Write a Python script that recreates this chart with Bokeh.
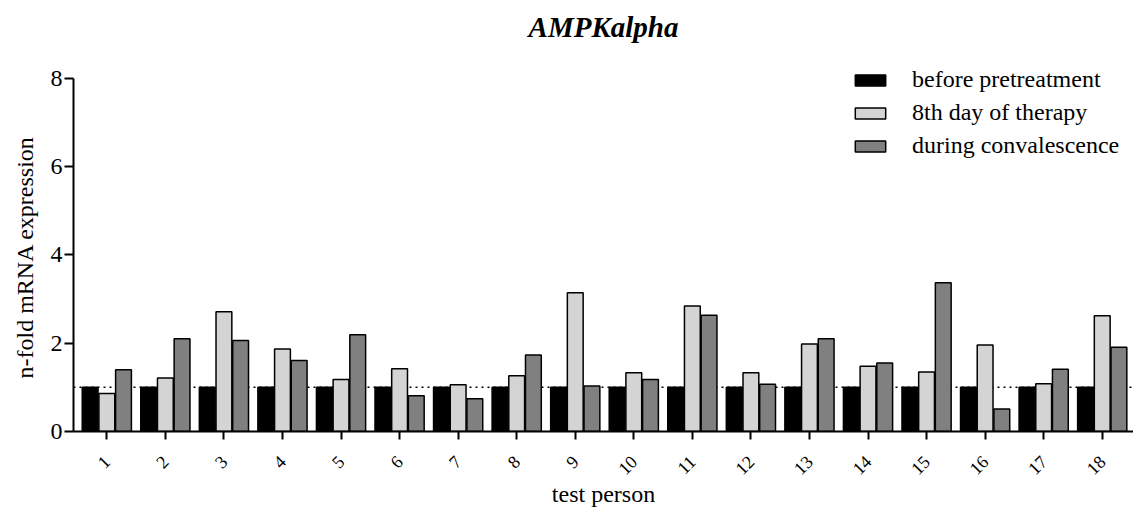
from math import pi
from bokeh.plotting import figure
from bokeh.models import Range1d, FixedTicker, Span, Legend, LegendItem, ColumnDataSource, Title
from bokeh.transform import dodge
from bokeh.embed import file_html
from bokeh.resources import INLINE

persons = list(range(1, 19))
tick_labels = [str(i) for i in persons]
before = [1.0] * 18
day8 = [0.86, 1.21, 2.71, 1.87, 1.18, 1.42, 1.06, 1.26, 3.14, 1.33, 2.84, 1.33, 1.98, 1.48, 1.35, 1.96, 1.08, 2.62]
conval = [1.40, 2.10, 2.06, 1.61, 2.19, 0.81, 0.74, 1.73, 1.03, 1.18, 2.63, 1.07, 2.10, 1.55, 3.37, 0.51, 1.41, 1.91]
series_names = ["before pretreatment", "8th day of therapy", "during convalescence"]
colors = ["#000000", "#d4d4d4", "#808080"]
y_ticks = [0, 2, 4, 6, 8]

FONT = "Liberation Serif"

src = ColumnDataSource(dict(x=persons, before=before, day8=day8, conval=conval))

# frame top sits above the "8" tick so the legend is not clipped;
# the y axis line itself is bounded to 0..8
p = figure(width=1133, height=510, output_backend="svg", toolbar_location=None,
           x_range=Range1d(0.431, 18.534), y_range=Range1d(0, 8.628),
           min_border_left=73, min_border_right=0, min_border_top=50, min_border_bottom=79)

p.title.text = "AMPKalpha"
p.title.text_font = FONT
p.title.text_font_style = "bold italic"
p.title.text_font_size = "29px"
p.title.text_color = "black"
p.title.align = "center"
p.title.vertical_align = "top"
p.title.standoff = 12

p.grid.visible = False
p.outline_line_color = None

span = Span(location=1, dimension="width", line_color="black", line_width=1.5,
            line_dash="2 4", level="underlay")
p.add_layout(span)

w = 0.27
offs = [-0.285, 0.0, 0.285]
keys = ["before", "day8", "conval"]
rends = []
for k, off, c in zip(keys, offs, colors):
    r = p.vbar(x=dodge("x", off, range=p.x_range), top=k, width=w, bottom=0, source=src,
               fill_color=c, line_color="black", line_width=1.5)
    rends.append(r)

legend = Legend(items=[LegendItem(label=n, renderers=[r]) for n, r in zip(series_names, rends)],
                location=(778, 272), glyph_width=38, glyph_height=14, label_standoff=23,
                label_text_font=FONT, label_text_font_size="24px", label_text_color="black",
                padding=0, spacing=6,
                border_line_color=None, background_fill_alpha=0, label_height=20)
p.add_layout(legend)

for ax in (p.xaxis[0], p.yaxis[0]):
    ax.axis_line_width = 2
    ax.major_tick_line_width = 2
    ax.minor_tick_line_color = None
    ax.major_tick_in = 0
    ax.major_label_text_font = FONT
    ax.axis_label_text_font = FONT
    ax.axis_label_text_font_style = "normal"
    ax.axis_label_text_font_size = "24px"
    ax.axis_label_text_color = "black"
    ax.axis_line_color = "black"
    ax.major_tick_line_color = "black"
    ax.major_label_text_color = "black"

p.xaxis.ticker = FixedTicker(ticks=persons)
p.xaxis.major_label_overrides = {x: l for x, l in zip(persons, tick_labels)}
p.xaxis.major_label_orientation = pi / 4
p.xaxis.major_label_text_font_size = "18px"
p.xaxis.major_tick_out = 8
p.xaxis.major_label_standoff = 19
p.xaxis.axis_label = "test person"
p.xaxis.axis_label_standoff = -2

p.yaxis.ticker = FixedTicker(ticks=y_ticks)
p.yaxis.bounds = (0, 8)
p.yaxis.major_label_text_font_size = "24px"
p.yaxis.major_tick_out = 9
p.yaxis.major_label_standoff = 2

# y axis title, anchored to the bottom of the frame so it sits like the reference
ytitle = Title(text="n-fold mRNA expression", align="left", offset=53, vertical_align="top",
               standoff=16, text_font=FONT, text_font_size="24px", text_font_style="normal",
               text_color="black")
p.add_layout(ytitle, "left")

open("out.html", "w").write(file_html(p, INLINE))
